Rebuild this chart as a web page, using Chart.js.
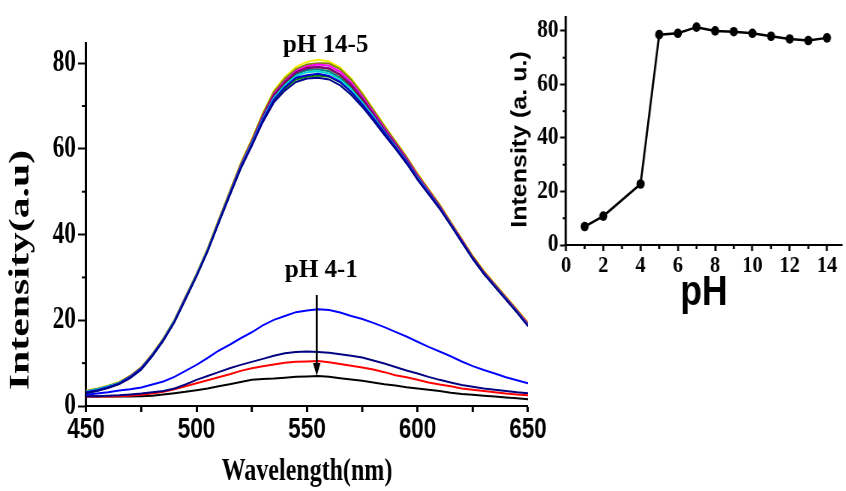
<!DOCTYPE html>
<html>
<head>
<meta charset="utf-8">
<script src="https://cdn.jsdelivr.net/npm/chart.js@4.4.1/dist/chart.umd.min.js"></script>
<style>
html,body{margin:0;padding:0;background:#fff;}
#stage{position:relative;width:846px;height:491px;overflow:hidden;background:#fff;}
.wrap{position:absolute;top:0;transform-origin:0 0;}
#w1{left:0;width:747px;height:491px;transform:scaleX(0.75);}
#w2{left:500px;width:407px;height:320px;transform:scaleX(0.85);}
canvas{display:block;}
</style>
</head>
<body>
<div id="stage">
  <div class="wrap" id="w1"><canvas id="c1" width="747" height="491"></canvas></div>
  <div class="wrap" id="w2"><canvas id="c2" width="407" height="320"></canvas></div>
</div>
<script>
// ---------- data ----------
const wavelengths = [450,455,460,465,470,475,480,485,490,495,500,505,510,515,520,525,530,535,540,545,550,555,560,565,570,575,580,585,590,595,600,605,610,615,620,625,630,635,640,645,650];

const intensityPH14 = [3.2,3.7,4.4,5.2,6.7,8.7,11.8,15.4,19.7,25.0,30.4,36.2,42.8,49.3,55.7,61.0,66.8,71.5,74.4,76.6,77.2,77.5,77.0,75.6,73.3,70.4,67.2,63.8,60.4,57.0,53.1,49.7,46.2,42.3,38.4,34.4,30.9,27.9,24.9,21.9,18.7];
const intensityPH13 = [3.0,3.5,4.2,5.1,6.5,8.5,11.6,15.2,19.5,24.8,30.2,36.0,42.6,49.0,55.3,60.6,66.2,70.8,73.6,75.6,76.4,76.6,76.2,74.8,72.6,69.8,66.6,63.2,60.0,56.6,52.8,49.4,46.0,42.2,38.2,34.3,30.8,27.8,24.8,21.8,18.6];
const intensityPH12 = [3.1,3.6,4.3,5.2,6.6,8.6,11.7,15.3,19.6,25.0,30.3,36.1,42.7,49.2,55.6,60.9,66.6,71.2,74.1,76.2,76.9,77.1,76.8,75.5,73.2,70.3,67.0,63.6,60.3,56.9,53.0,49.6,46.1,42.2,38.3,34.4,30.9,27.9,24.9,21.9,18.7];
const intensityPH11 = [3.4,3.9,4.6,5.4,6.8,8.8,11.9,15.5,19.9,25.2,30.6,36.4,43.0,49.5,55.9,61.3,67.1,71.9,74.9,77.0,77.9,78.1,77.6,76.1,73.9,70.9,67.6,64.0,60.6,57.1,53.3,49.8,46.3,42.4,38.4,34.5,31.0,28.0,25.0,22.0,18.8];
const intensityPH10 = [3.3,3.8,4.5,5.4,6.9,8.9,12.0,15.6,19.9,25.3,30.6,36.4,43.1,49.6,56.1,61.6,67.6,72.6,75.7,77.9,78.8,79.1,78.8,77.4,75.0,71.8,68.3,64.6,61.1,57.6,53.6,50.1,46.6,42.6,38.7,34.7,31.2,28.2,25.2,22.2,19.0];
const intensityPH9  = [3.4,3.9,4.6,5.4,6.9,8.9,12.0,15.6,20.0,25.4,30.7,36.5,43.2,49.7,56.2,61.7,67.7,72.8,75.9,78.2,79.3,79.7,79.4,78.0,75.5,72.2,68.6,64.9,61.3,57.8,53.8,50.3,46.7,42.7,38.8,34.8,31.3,28.3,25.3,22.3,19.2];
const intensityPH8  = [3.5,4.0,4.7,5.5,7.0,9.0,12.1,15.7,20.1,25.5,30.8,36.7,43.4,50.0,56.5,62.1,68.2,73.3,76.4,78.6,79.7,80.0,79.9,78.6,76.1,72.8,69.1,65.3,61.7,58.1,54.1,50.5,46.9,42.9,38.9,34.9,31.4,28.4,25.4,22.4,19.3];
const intensityPH7  = [3.6,4.1,4.8,5.6,7.1,9.1,12.2,15.8,20.2,25.6,30.9,36.8,43.5,50.1,56.7,62.3,68.4,73.6,76.8,79.1,80.3,80.8,80.4,79.0,76.5,73.1,69.3,65.5,61.9,58.3,54.3,50.7,47.1,43.1,39.1,35.1,31.6,28.6,25.6,22.6,19.5];
const intensityPH6  = [3.3,3.8,4.5,5.3,6.8,8.8,11.9,15.5,19.8,25.2,30.5,36.3,43.0,49.5,56.0,61.5,67.5,72.5,75.5,77.8,78.9,79.1,78.7,77.2,74.8,71.6,68.1,64.5,61.0,57.5,53.5,50.0,46.5,42.5,38.6,34.6,31.1,28.1,25.1,22.1,18.9];
const intensityPH5  = [3.2,3.7,4.5,5.3,6.8,8.8,11.9,15.6,19.9,25.3,30.6,36.4,43.1,49.6,56.0,61.4,67.3,72.2,75.2,77.4,78.4,78.6,78.1,76.6,74.3,71.2,67.8,64.2,60.8,57.3,53.4,49.9,46.4,42.5,38.5,34.5,31.0,28.0,25.0,22.0,18.8];
const intensityPH4  = [2.6,2.9,3.2,3.6,3.9,4.3,5.0,5.7,6.8,8.2,9.6,11.2,12.9,14.3,15.8,17.2,18.8,20.1,21.0,21.9,22.3,22.6,22.4,21.8,21.0,20.3,19.4,18.4,17.3,16.2,15.0,13.8,12.7,11.6,10.4,9.3,8.4,7.6,6.7,6.0,5.3];
const intensityPH3  = [2.3,2.3,2.4,2.5,2.7,2.9,3.2,3.5,4.1,5.0,6.1,7.0,7.9,8.8,9.6,10.3,11.0,11.7,12.3,12.6,12.7,12.6,12.4,12.1,11.7,11.3,10.6,9.9,9.1,8.3,7.6,6.8,6.1,5.5,4.9,4.5,4.1,3.8,3.5,3.2,3.0];
const intensityPH2  = [2.2,2.2,2.2,2.3,2.4,2.6,2.9,3.3,3.9,4.6,5.3,6.0,6.7,7.4,8.2,8.8,9.3,9.7,10.1,10.3,10.4,10.5,10.2,9.8,9.4,9.0,8.5,7.9,7.2,6.7,6.1,5.5,5.0,4.6,4.1,3.8,3.5,3.2,2.9,2.7,2.5];
const intensityPH1  = [2.2,2.2,2.2,2.2,2.2,2.3,2.4,2.7,3.0,3.3,3.7,4.1,4.6,5.1,5.6,6.1,6.3,6.4,6.6,6.8,6.9,7.0,6.8,6.5,6.2,5.9,5.5,5.1,4.8,4.4,4.1,3.8,3.5,3.1,2.8,2.6,2.4,2.2,2.0,1.8,1.6];

const phValues = [1,2,4,5,6,7,8,9,10,11,12,13,14];
const peakIntensity = [6.9,10.8,22.8,78.6,79.1,81.4,80.0,79.7,79.1,78.0,77.0,76.4,77.4];

const mainXTicks = [450,500,550,600,650];
const mainXMinor = [475,525,575,625];
const mainYTicks = [0,20,40,60,80];
const mainYMinor = [10,30,50,70];
const insetXTicks = [0,2,4,6,8,10,12,14];
const insetXMinor = [1,3,5,7,9,11,13];
const insetYTicks = [0,20,40,60,80];
const insetYMinor = [10,30,50,70];

// ---------- styling ----------
const SERIF = '"Liberation Serif","Times New Roman",serif';
const SANS = '"Liberation Sans",Arial,sans-serif';
const SX1 = 0.75, SX2 = 0.85;

function pts(arr){ return wavelengths.map((w,i)=>({x:w,y:arr[i]})); }
function line(label, arr, color){
  return {label, data: pts(arr), borderColor: color, backgroundColor: color,
          borderWidth: 2, pointRadius: 0, tension: 0, fill: false};
}

const mainDatasets = [
  line('pH 13', intensityPH13, '#00008B'),
  line('pH 14', intensityPH14, '#0000CD'),
  line('pH 12', intensityPH12, '#008000'),
  line('pH 11', intensityPH11, '#00D8D8'),
  line('pH 10', intensityPH10, '#800080'),
  line('pH 6',  intensityPH6,  '#800000'),
  line('pH 5',  intensityPH5,  '#008080'),
  line('pH 9',  intensityPH9,  '#FF00FF'),
  line('pH 8',  intensityPH8,  '#808000'),
  line('pH 7',  intensityPH7,  '#F0F000'),
  line('pH 4',  intensityPH4,  '#0000FF'),
  line('pH 3',  intensityPH3,  '#000080'),
  line('pH 2',  intensityPH2,  '#FF0000'),
  line('pH 1',  intensityPH1,  '#000000')
];

function minorTicks(ctx, chart, xs, ys, xLen, yLen, xW, yW){
  const a = chart.chartArea, sx = chart.scales.x, sy = chart.scales.y;
  ctx.strokeStyle = '#000';
  ctx.lineWidth = xW;
  xs.forEach(v=>{ const p = sx.getPixelForValue(v); ctx.beginPath(); ctx.moveTo(p,a.bottom); ctx.lineTo(p,a.bottom+xLen); ctx.stroke(); });
  ctx.lineWidth = yW;
  ys.forEach(v=>{ const p = sy.getPixelForValue(v); ctx.beginPath(); ctx.moveTo(a.left,p); ctx.lineTo(a.left-yLen,p); ctx.stroke(); });
}

const mainDecor = {
  id: 'mainDecor',
  afterDraw(chart){
    const ctx = chart.ctx, sx = chart.scales.x, sy = chart.scales.y;
    ctx.save();
    minorTicks(ctx, chart, mainXMinor, mainYMinor, 6, 5.5, 3, 2);
    // y title
    ctx.fillStyle = '#000';
    ctx.save();
    ctx.translate(37.5, 270);
    ctx.rotate(-Math.PI/2);
    ctx.scale(1.1, 1);
    ctx.font = 'bold 38px ' + SERIF;
    ctx.textAlign = 'center';
    ctx.textBaseline = 'alphabetic';
    ctx.fillText('Intensity(a.u)', 0, 0);
    ctx.restore();
    // annotations (uncompressed text)
    const labels = [['pH 14-5', 539.1, 82.6], ['pH 4-1', 540.0, 30.2]];
    ctx.font = 'bold 25px ' + SERIF;
    ctx.textAlign = 'left';
    ctx.textBaseline = 'alphabetic';
    labels.forEach(([t,xv,yv])=>{
      ctx.save();
      ctx.translate(sx.getPixelForValue(xv), sy.getPixelForValue(yv));
      ctx.scale(1/SX1, 1);
      ctx.fillText(t, 0, 0);
      ctx.restore();
    });
    // arrow
    const ax = sx.getPixelForValue(554.4), ay1 = sy.getPixelForValue(25.9), ay2 = sy.getPixelForValue(7.0);
    ctx.strokeStyle = '#000'; ctx.lineWidth = 2.7;
    ctx.beginPath(); ctx.moveTo(ax, ay1); ctx.lineTo(ax, ay2 - 10); ctx.stroke();
    ctx.beginPath(); ctx.moveTo(ax - 5, ay2 - 13); ctx.lineTo(ax + 5, ay2 - 13); ctx.lineTo(ax, ay2); ctx.closePath(); ctx.fill();
    ctx.restore();
  }
};

const insetDecor = {
  id: 'insetDecor',
  afterDraw(chart){
    const ctx = chart.ctx;
    ctx.save();
    minorTicks(ctx, chart, insetXMinor, insetYMinor, 4, 4, 2.4, 2);
    ctx.fillStyle = '#000';
    ctx.translate(30.5, 139.5);
    ctx.rotate(-Math.PI/2);
    ctx.font = 'bold 25px ' + SANS;
    ctx.textAlign = 'center';
    ctx.textBaseline = 'alphabetic';
    ctx.fillText('Intensity (a. u.)', 0, 0);
    ctx.restore();
  }
};

Chart.defaults.color = '#000';

new Chart(document.getElementById('c1'), {
  type: 'line',
  data: { datasets: mainDatasets },
  options: {
    responsive: false, animation: false, devicePixelRatio: 1,
    layout: { padding: { left: 0, right: 43, top: 43, bottom: 0 } },
    plugins: { legend: { display: false }, tooltip: { enabled: false } },
    scales: {
      x: {
        type: 'linear', min: 450, max: 650,
        afterBuildTicks: s => { s.ticks = mainXTicks.map(v=>({value:v})); },
        afterFit: s => { s.height = 85; },
        ticks: { autoSkip: false, maxRotation: 0, minRotation: 0, padding: 0,
                 font: { family: SANS, size: 30, weight: 'bold' }, color: '#000',
                 callback: v => String(v) },
        grid: { display: true, drawOnChartArea: false, drawTicks: true, tickLength: 6, tickWidth: 3, tickColor: '#000' },
        border: { display: true, color: '#000', width: 2 },
        title: { display: true, text: 'Wavelength(nm)', color: '#000', padding: { top: 0, bottom: 0 },
                 font: { family: SERIF, size: 32, weight: 'bold' } }
      },
      y: {
        type: 'linear', min: 0, max: 84.7,
        afterBuildTicks: s => { s.ticks = mainYTicks.map(v=>({value:v})); },
        afterFit: s => { s.width = 114.67; },
        ticks: { autoSkip: false, padding: 2.7,
                 font: { family: SERIF, size: 31, weight: 'bold' }, color: '#000',
                 callback: v => String(v) },
        grid: { display: true, drawOnChartArea: false, drawTicks: true, tickLength: 10.7, tickWidth: 2, tickColor: '#000' },
        border: { display: true, color: '#000', width: 3 }
      }
    }
  },
  plugins: [mainDecor]
});

new Chart(document.getElementById('c2'), {
  type: 'line',
  data: {
    datasets: [{
      label: 'Intensity',
      data: phValues.map((p,i)=>({x:p, y:peakIntensity[i]})),
      borderColor: '#000', backgroundColor: '#000', borderWidth: 2.5,
      pointRadius: 4.8, pointBorderWidth: 0, pointBackgroundColor: '#000', tension: 0
    }]
  },
  options: {
    responsive: false, animation: false, devicePixelRatio: 1,
    layout: { padding: { left: 0, right: 3.5, top: 12, bottom: 0 } },
    plugins: { legend: { display: false }, tooltip: { enabled: false } },
    scales: {
      x: {
        type: 'linear', min: 0, max: 14.8,
        afterBuildTicks: s => { s.ticks = insetXTicks.map(v=>({value:v})); },
        afterFit: s => { s.height = 75; },
        ticks: { autoSkip: false, maxRotation: 0, minRotation: 0, padding: 0,
                 font: { family: SERIF, size: 24, weight: 'bold' }, color: '#000',
                 callback: v => String(v) },
        grid: { display: true, drawOnChartArea: false, drawTicks: true, tickLength: 6, tickWidth: 2.4, tickColor: '#000' },
        border: { display: true, color: '#000', width: 2 },
        title: { display: true, text: 'pH', color: '#000', padding: { top: 0, bottom: 1.4 },
                 font: { family: SANS, size: 42, weight: 'bold' } }
      },
      y: {
        type: 'linear', min: 0, max: 85.2,
        afterBuildTicks: s => { s.ticks = insetYTicks.map(v=>({value:v})); },
        afterFit: s => { s.width = 77.65; },
        ticks: { autoSkip: false, padding: 2,
                 font: { family: SERIF, size: 25, weight: 'bold' }, color: '#000',
                 callback: v => String(v) },
        grid: { display: true, drawOnChartArea: false, drawTicks: true, tickLength: 7, tickWidth: 2, tickColor: '#000' },
        border: { display: true, color: '#000', width: 2.6 }
      }
    }
  },
  plugins: [insetDecor]
});
</script>
</body>
</html>
